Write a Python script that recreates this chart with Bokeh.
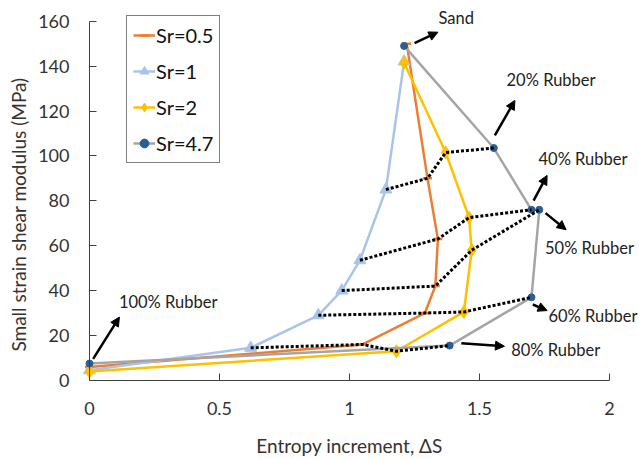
import math
from bokeh.plotting import figure
from bokeh.models import (ColumnDataSource, Range1d, FixedTicker, Arrow, NormalHead,
                          Label, Legend, LegendItem)
from bokeh.embed import file_html
from bokeh.resources import INLINE

# ---------------- data ----------------
# point order: 100% rubber, 80%, 60%, 50%, 40%, 20%, sand
sr05_x = [0.0, 1.05, 1.29, 1.33, 1.34, 1.30, 1.22]
sr05_y = [6.0, 16.0, 30.0, 42.0, 63.0, 90.0, 150.0]
sr1_x = [0.0, 0.62, 0.88, 0.97, 1.04, 1.14, 1.21]
sr1_y = [4.5, 14.5, 29.0, 40.0, 53.5, 85.0, 142.0]
sr2_x = [0.0, 1.18, 1.44, 1.47, 1.46, 1.37, 1.21]
sr2_y = [4.0, 13.0, 30.5, 58.0, 72.5, 101.5, 141.5]
sr47_x = [0.0, 1.385, 1.70, 1.73, 1.70, 1.555, 1.21]
sr47_y = [7.5, 15.5, 37.0, 76.0, 76.0, 103.5, 149.0]

series_names = ["Sr=0.5", "Sr=1", "Sr=2", "Sr=4.7"]

x_ticks = [0, 0.5, 1, 1.5, 2]
x_tick_labels = ["0", "0.5", "1", "1.5", "2"]
y_ticks = [0, 20, 40, 60, 80, 100, 120, 140, 160]

x_title = "Entropy increment, ΔS"
y_title = "Small strain shear modulus (MPa)"

# annotations (data units)
label_text = ["Sand", "20% Rubber", "40% Rubber", "50% Rubber", "60% Rubber", "80% Rubber", "100% Rubber"]
label_x = [1.342, 1.604, 1.727, 1.752, 1.765, 1.622, 0.113]
label_y = [161.6, 133.6, 98.8, 58.8, 28.9, 13.6, 34.8]
arrow_x_start = [1.25, 1.559, 1.708, 1.754, 1.705, 1.430, 0.014]
arrow_y_start = [150.2, 109.1, 80.1, 74.5, 33.8, 16.6, 9.6]
arrow_x_end = [1.34, 1.636, 1.760, 1.833, 1.760, 1.596, 0.115]
arrow_y_end = [155.1, 124.7, 91.3, 67.1, 31.1, 15.2, 28.2]

# ---------------- figure ----------------
FONT = "Lato"
W, H = 639, 459
PX_X, PX_Y = 260.0, 2.245          # pixels per data unit
LEFT, BOTTOM = 89.0, 79.1          # screen offset of the data origin
p = figure(width=W, height=H, output_backend="svg", toolbar_location=None,
           x_range=Range1d(-LEFT / PX_X, (W - LEFT) / PX_X),
           y_range=Range1d(-BOTTOM / PX_Y, (H - BOTTOM) / PX_Y),
           min_border=0)
p.outline_line_color = None
p.xgrid.visible = False
p.ygrid.visible = False
p.background_fill_color = "white"

for ax in (p.xaxis[0], p.yaxis[0]):
    ax.fixed_location = 0
    ax.axis_line_color = "#404040"
    ax.major_tick_line_color = "#404040"
    ax.major_tick_in = 7
    ax.major_tick_out = 0
    ax.minor_tick_in = 0
    ax.minor_tick_out = 0
    ax.major_label_text_font = FONT
    ax.major_label_text_font_size = "18px"
    ax.major_label_text_color = "#333333"

p.xaxis.ticker = FixedTicker(ticks=x_ticks)
p.xaxis.major_label_overrides = {t: l for t, l in zip(x_ticks, x_tick_labels)}
p.xaxis.bounds = (x_ticks[0], x_ticks[-1])
p.yaxis.ticker = FixedTicker(ticks=y_ticks)
p.yaxis.bounds = (y_ticks[0], y_ticks[-1])
p.yaxis.major_label_standoff = 20
p.xaxis.major_label_standoff = 22

# axis titles as labels
p.add_layout(Label(x=(x_ticks[0] + x_ticks[-1]) / 2, y=-29.0, text=x_title, text_font=FONT,
                   text_font_size="19px", text_color="#333333",
                   text_align="center", text_baseline="middle"))
p.add_layout(Label(x=-0.273, y=73.9, text=y_title, text_font=FONT, angle=math.pi / 2,
                   text_font_size="19px", text_color="#333333",
                   text_align="center", text_baseline="middle"))

orange = "#ED7D31"
lblue = "#A9C4EB"
yellow = "#FFC000"
gray = "#A5A5A5"
dblue = "#2B5F94"

r1l = p.line(sr05_x, sr05_y, line_color=orange, line_width=2.5)
r1m = p.scatter(sr05_x, sr05_y, marker="dash", size=9, line_color=orange, line_width=2.5)
r2l = p.line(sr1_x, sr1_y, line_color=lblue, line_width=2.5)
r2m = p.scatter(sr1_x, sr1_y, marker="triangle", size=12, fill_color=lblue, line_color=lblue)
r3l = p.line(sr2_x, sr2_y, line_color=yellow, line_width=2.5)
r3m = p.scatter(sr2_x, sr2_y, marker="diamond", size=13, fill_color=yellow, line_color=yellow)
r4l = p.line(sr47_x, sr47_y, line_color=gray, line_width=2.5)
r4m = p.scatter(sr47_x, sr47_y, marker="circle", size=7, fill_color=dblue, line_color=dblue)

# dotted links between the same rubber content across series
dx, dy = [], []
for i in range(1, 6):
    dx.append([sr1_x[i], sr05_x[i], sr2_x[i], sr47_x[i]])
    dy.append([sr1_y[i], sr05_y[i], sr2_y[i], sr47_y[i]])
p.multi_line(dx, dy, line_color="black", line_width=3, line_dash="3 2")

# arrows and labels
asrc = ColumnDataSource(dict(xs=arrow_x_start, ys=arrow_y_start, xe=arrow_x_end, ye=arrow_y_end))
p.add_layout(Arrow(source=asrc, x_start="xs", y_start="ys", x_end="xe", y_end="ye",
                   line_color="black", line_width=2.5,
                   end=NormalHead(size=9, fill_color="black", line_color="black")))
for t, lx, ly in zip(label_text, label_x, label_y):
    p.add_layout(Label(x=lx, y=ly, text=t, text_font=FONT, text_font_size="16.5px",
                       text_color="#222222", text_align="left", text_baseline="middle"))

legend = Legend(items=[LegendItem(label=series_names[0], renderers=[r1l, r1m]),
                       LegendItem(label=series_names[1], renderers=[r2l, r2m]),
                       LegendItem(label=series_names[2], renderers=[r3l, r3m]),
                       LegendItem(label=series_names[3], renderers=[r4l, r4m])],
                location=(126, 296))
legend.border_line_color = "black"
legend.border_line_width = 1
legend.background_fill_alpha = 1
legend.label_text_font = FONT
legend.label_text_font_size = "20px"
legend.label_text_color = "#111111"
legend.padding = 6
legend.margin = 0
legend.spacing = 10
legend.glyph_height = 26
legend.glyph_width = 22
legend.label_standoff = 1
legend.label_height = 26
p.add_layout(legend, "center")

open("out.html", "w").write(file_html(p, INLINE))
